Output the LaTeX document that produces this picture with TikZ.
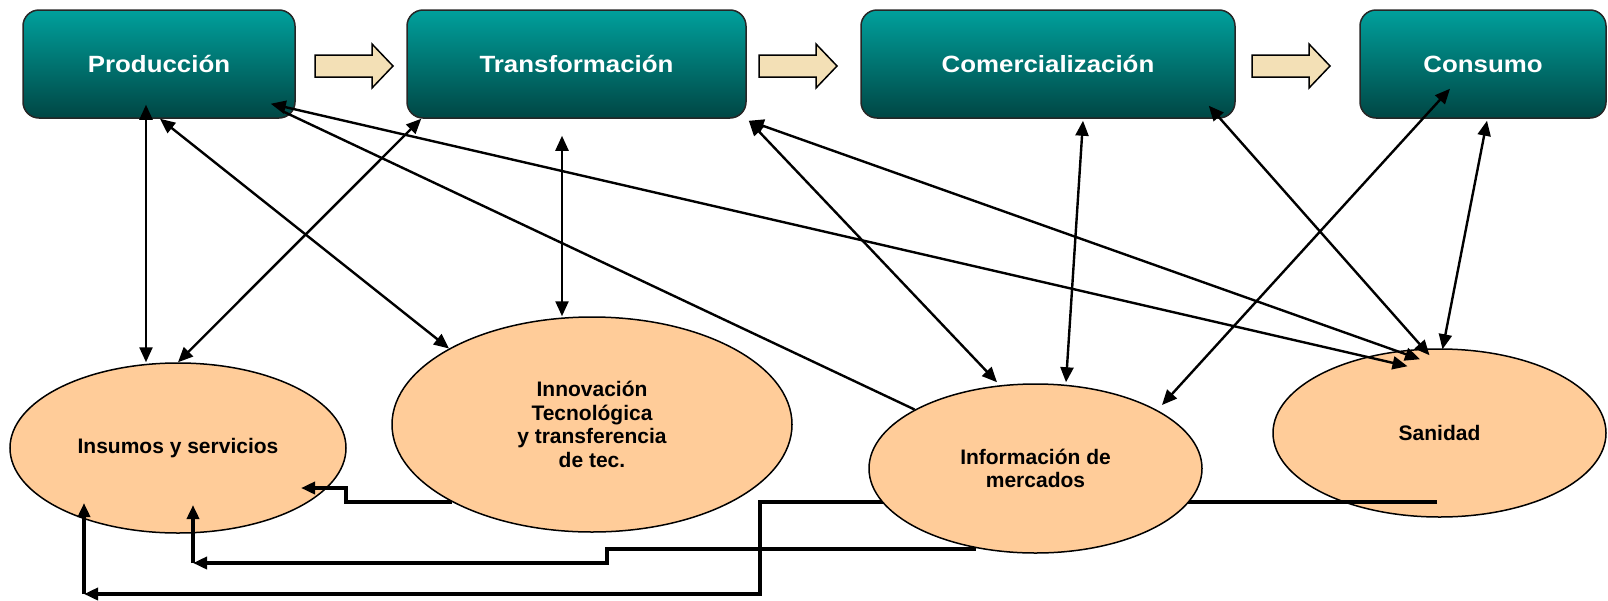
\documentclass[tikz,border=0pt]{standalone}
\usepackage{fontspec}
\setmainfont{Liberation Sans}
\newfontfamily\boxfont[FakeStretch=1.1]{Liberation Sans}
\usetikzlibrary{shapes.geometric,arrows.meta,calc}
\pgfdeclarelayer{back}\pgfdeclarelayer{mid}
\pgfsetlayers{back,mid,main}
\definecolor{tealtop}{RGB}{0,160,156}
\definecolor{tealbot}{RGB}{0,70,68}
\definecolor{peach}{RGB}{255,204,153}
\definecolor{beige}{RGB}{243,224,182}
\tikzset{
 stage/.style={draw=black!85, line width=1.5pt, rounded corners=16pt, top color=tealtop, bottom color=tealbot, minimum height=108pt, inner sep=0pt, text=white, font=\boxfont\bfseries\fontsize{23.5}{28}\selectfont},
 area/.style={ellipse, draw=black, line width=1.5pt, fill=peach, inner sep=0pt, align=center, font=\bfseries\fontsize{21}{23.6}\selectfont},
 conn/.style={line width=2.4pt, {Triangle[length=15pt,width=13pt]}-{Triangle[length=15pt,width=13pt]}},
 link/.style={line width=2.4pt},
 feed/.style={line width=4pt},
 feedtip/.style={feed, -{Triangle[length=14pt,width=12pt]}},
 flow/.style={draw=black, line width=1.5pt, fill=beige, line join=miter},
}
\newcommand\flowarrow[1]{\draw[flow] (#1,55) -- ++(57,0) -- ++(0,-11) -- ++(21,22) -- ++(-21,22) -- ++(0,-11) -- ++(-57,0) -- cycle;}
\begin{document}
\begin{tikzpicture}[x=1pt,y=-1pt]
\useasboundingbox (0,0) rectangle (1608,600);
% stages
\node[stage, minimum width=272pt] (prod) at (159,64) {Producción};
\node[stage, minimum width=339pt] (trans) at (576.5,64) {Transformación};
\node[stage, minimum width=374pt] (com) at (1048,64) {Comercialización};
\node[stage, minimum width=246pt] (cons) at (1483,64) {Consumo};
\flowarrow{315}
\flowarrow{759}
\flowarrow{1252}
% ellipses under the feedback lines
\begin{pgfonlayer}{back}
\node[area, minimum width=336pt, minimum height=170pt] (ins) at (178,448) {Insumos y servicios};
\node[area, minimum width=333pt, minimum height=168pt] (san) at (1439.5,433) {Sanidad};
\end{pgfonlayer}
\node[area, minimum width=400pt, minimum height=215pt] (inn) at (592,424.5) {Innovación\\Tecnológica\\y transferencia\\de tec.};
\node[area, minimum width=333pt, minimum height=169pt] (inf) at (1035.5,468.5) {Información de\\mercados};
% feedback lines
\begin{pgfonlayer}{mid}
\coordinate (c1) at (346,502);
\coordinate (c2) at (346,488);
\draw[feedtip] ([xshift=-140pt,yshift=-77.5pt]inn.center) -- (c1) -- (c2) -- ([xshift=123pt,yshift=-40pt]ins.center);
\coordinate (b1) at (607,549);
\coordinate (b2) at (607,563);
\coordinate (b3) at (193,563);
\draw[feedtip] ([xshift=-60pt,yshift=-80.5pt]inf.center) -- (b1) -- (b2) -- (b3);
\draw[feedtip] (b3) -- ([xshift=15pt,yshift=-57pt]ins.center);
\coordinate (a1) at (760,502);
\coordinate (a2) at (760,594);
\coordinate (a3) at (84,594);
\draw[feedtip] ([xshift=-2.5pt,yshift=-69pt]san.center) -- (a1) -- (a2) -- (a3);
\draw[feedtip] (a3) -- ([xshift=-94pt,yshift=-55pt]ins.center);
\end{pgfonlayer}
% connectors
\draw[conn] ([xshift=-13pt,yshift=14pt]prod.south) -- ([xshift=-32pt]ins.north);
\draw[conn] ([xshift=1pt]prod.south) -- (inn.152);
\draw[conn] ([xshift=15pt]trans.south west) -- (ins.north);
\draw[conn] ([xshift=-25pt,yshift=15pt]prod.south east) -- ([xshift=-32pt,yshift=-18pt]san.north);
\draw[link] ([xshift=-12pt,yshift=7pt]prod.south east) -- (inf.154);
\draw[conn] ([xshift=2pt,yshift=-2pt]trans.south east) -- ([xshift=-19.5pt,yshift=-11pt]san.north);
\draw[conn] ([xshift=2pt,yshift=-2pt]trans.south east) -- ([xshift=-38.5pt,yshift=1pt]inf.north);
\draw[conn] ([xshift=-14.5pt,yshift=-17pt]trans.south) -- ([xshift=-30pt]inn.north);
\draw[conn] ([xshift=35pt,yshift=-2pt]com.south) -- ([xshift=30.5pt,yshift=1pt]inf.north);
\draw[conn] ([xshift=-27pt,yshift=13pt]com.south east) -- ([xshift=-10pt,yshift=-7pt]san.north);
\draw[conn] ([xshift=4pt,yshift=-2pt]cons.south) -- ([xshift=3pt,yshift=-1pt]san.north);
\draw[conn] ([xshift=-33pt,yshift=30pt]cons.south) -- ([xshift=126.5pt,yshift=63.5pt]inf.center);
\end{tikzpicture}
\end{document}
